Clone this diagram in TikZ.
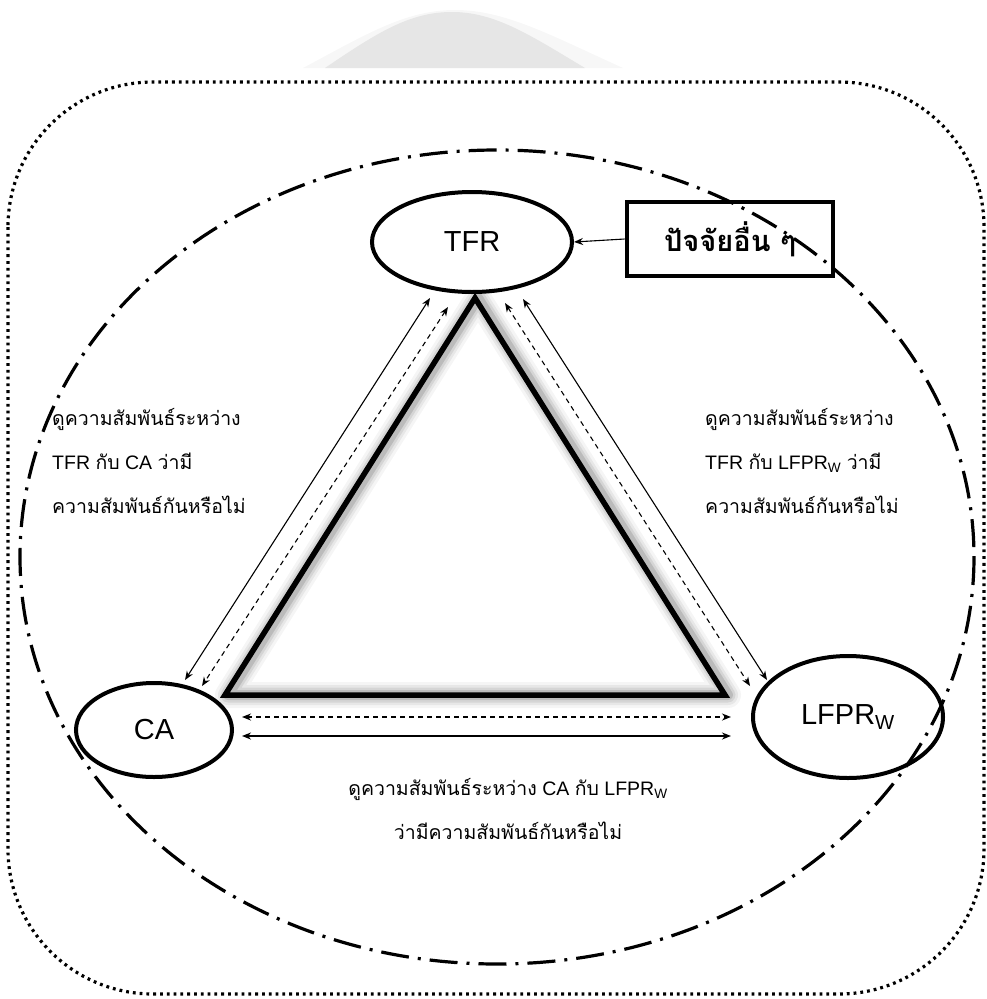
\documentclass[tikz,border=0pt]{standalone}
\usepackage{fontspec}
\setmainfont{Liberation Sans}
\newfontfamily\thaifont[Script=Thai]{Loma}
\usetikzlibrary{shapes.geometric,arrows.meta}
\definecolor{bellgray}{HTML}{E6E6E6}
\definecolor{halogray}{HTML}{F7F7F7}
\tikzset{
  ell/.style={draw, ellipse, line width=4pt, fill=white, inner sep=0pt, font=\fontsize{29}{32}\selectfont},
  arr/.style={line width=1.1pt, {Stealth[length=9pt,width=7pt]}-{Stealth[length=9pt,width=7pt]}},
  darr/.style={arr, dash pattern=on 5pt off 4pt},
  lbl/.style={align=left, inner sep=0pt, font=\fontsize{19.5}{44}\selectfont},
  dotframe/.style={line width=3.2pt, dash pattern=on 2.8pt off 4pt, rounded corners=145pt},
  dashdotline/.style={line width=3.2pt, dash pattern=on 28pt off 9pt on 3pt off 9pt},
  tri/.style={line width=5.5pt, line join=miter}
}
\begin{document}
\begin{tikzpicture}[x=1pt,y=-1pt]
\useasboundingbox (0,0) rectangle (986,999);
% grey bell at the top
\fill[halogray] (303,68) .. controls (365,35) and (405,10) .. (455,10) .. controls (505,10) and (550,35) .. (623,68) -- cycle;
\fill[bellgray] (325,68) .. controls (378,32) and (410,12) .. (452,12) .. controls (495,12) and (530,35) .. (585,68) -- cycle;
% dotted rounded frame
\draw[dotframe] (8,82) rectangle (984,994);
% triangle glow
\begin{scope}[xshift=3pt]
\foreach \w/\o in {26/0.04,20/0.06,15/0.08,10/0.12}{
  \draw[line width=\w pt, black, opacity=\o, line join=round] (475,298) -- (725,695) -- (225,695) -- cycle;
}
\end{scope}
\draw[tri] (475,298) -- (725,695) -- (225,695) -- cycle;
% nodes
\node[ell, minimum width=200pt, minimum height=100pt] (tfr) at (472,242) {TFR};
\node[ell, minimum width=156pt, minimum height=94pt] (ca) at (154,730) {CA};
\node[ell, minimum width=190pt, minimum height=122pt] (lfpr) at (848,717) {LFPR\textsubscript{W}};
\node[draw, line width=4.8pt, minimum width=206pt, minimum height=74pt, inner sep=0pt] (other) at (730,239) {\fontsize{29}{32}\selectfont\bfseries\thaifont ปัจจัยอื่น ๆ};
% connectors
\draw[line width=1.1pt, -{Stealth[length=9pt,width=7pt]}] (other.west) -- (tfr.east);
\draw[arr] ([shift={(-42,56)}]tfr.center) -- ([shift={(31,-50)}]ca.center);
\draw[darr] ([shift={(-24,65)}]tfr.center) -- ([shift={(48,-44)}]ca.center);
\draw[darr] ([shift={(33,61)}]tfr.center) -- ([shift={(-98,-31)}]lfpr.center);
\draw[arr] ([shift={(51,57)}]tfr.center) -- ([shift={(-81,-37)}]lfpr.center);
\draw[darr, line width=1.7pt] ([shift={(88,-13)}]ca.center) -- ([shift={(-117,0)}]lfpr.center);
\draw[arr, line width=1.7pt] ([shift={(88,6)}]ca.center) -- ([shift={(-117,19)}]lfpr.center);
% labels
\node[lbl, anchor=north west] (lleft) at (52,408) {{\thaifont ดูความสัมพันธ์ระหว่าง}\\TFR {\thaifont กับ} CA {\thaifont ว่ามี}\\{\thaifont ความสัมพันธ์กันหรือไม่}};
\node[lbl, anchor=north west] (lright) at (705,408) {{\thaifont ดูความสัมพันธ์ระหว่าง}\\TFR {\thaifont กับ} LFPR\textsubscript{W} {\thaifont ว่ามี}\\{\thaifont ความสัมพันธ์กันหรือไม่}};
\node[lbl, align=center, anchor=north] (lbottom) at (508,778) {{\thaifont ดูความสัมพันธ์ระหว่าง} CA {\thaifont กับ} LFPR\textsubscript{W}\\{\thaifont ว่ามีความสัมพันธ์กันหรือไม่}};
% dash-dot ellipse
\draw[dashdotline] (497,557) ellipse [x radius=477, y radius=407];
\end{tikzpicture}
\end{document}
